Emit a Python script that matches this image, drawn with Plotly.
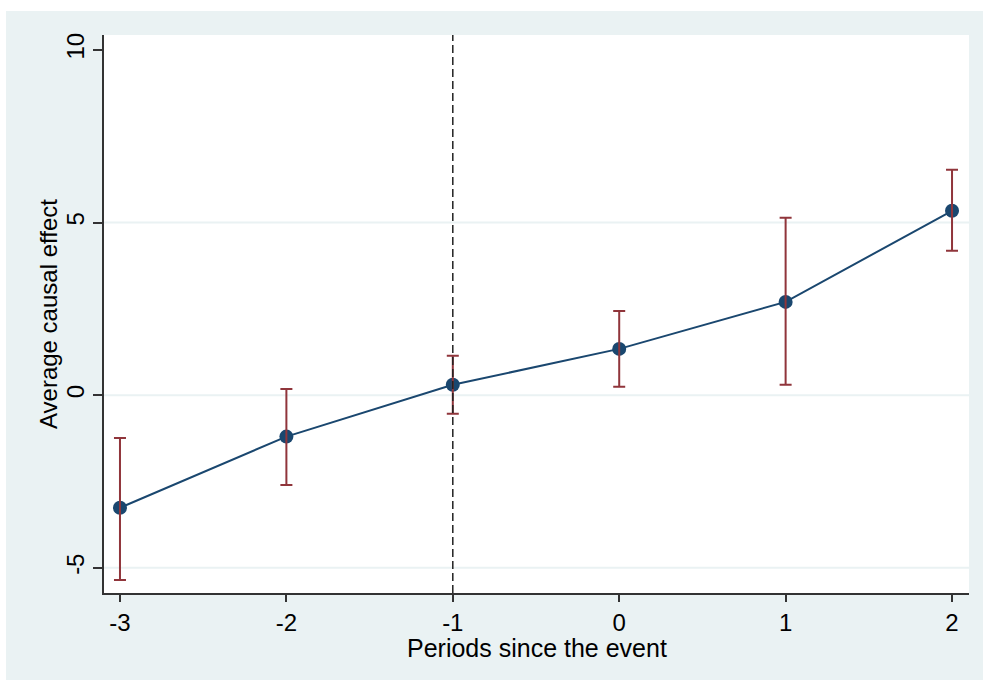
import plotly.graph_objects as go

periods = [-3, -2, -1, 0, 1, 2]
effect = [-3.26, -1.20, 0.30, 1.34, 2.70, 5.34]
ci_upper = [-1.24, 0.18, 1.14, 2.44, 5.14, 6.53]
ci_lower = [-5.35, -2.60, -0.54, 0.24, 0.30, 4.18]
x_ticks = [-3, -2, -1, 0, 1, 2]
y_ticks = [-5, 0, 5, 10]
grid_vals = [-5, 0, 5]
event_line = -1
x_title = "Periods since the event"
y_title = "Average causal effect"

err_plus = [u - e for u, e in zip(ci_upper, effect)]
err_minus = [e - l for e, l in zip(effect, ci_lower)]

font_family = "Liberation Sans, Arial, sans-serif"
bg = "#EAF2F3"

W, H = 983, 680
ML, MR, MT, MB = 104, 14, 35, 87
PW, PH = W - ML - MR, H - MT - MB

fig = go.Figure()
fig.add_trace(go.Scatter(
    x=periods, y=effect, mode="lines+markers",
    line=dict(color="#1A476F", width=2),
    marker=dict(color="#1A476F", size=14),
    showlegend=False, hoverinfo="skip",
))
fig.add_trace(go.Scatter(
    x=periods, y=effect, mode="markers",
    marker=dict(size=0.1, color="rgba(0,0,0,0)"),
    error_y=dict(type="data", symmetric=False, array=err_plus, arrayminus=err_minus,
                 color="#90353B", thickness=2, width=6),
    showlegend=False,
))

fig.update_layout(
    width=W, height=H,
    margin=dict(l=ML, r=MR, t=MT, b=MB),
    paper_bgcolor=bg,
    plot_bgcolor="white",
    font=dict(family=font_family, color="black", size=24),
)

# thin white border strips at the top and left of the page
fig.add_shape(type="rect", xref="paper", yref="paper",
              x0=-ML / PW - 0.05, x1=1 + MR / PW + 0.05, y0=1 + (MT - 11) / PH, y1=1 + MT / PH + 0.05,
              fillcolor="white", line=dict(width=0), layer="below")
fig.add_shape(type="rect", xref="paper", yref="paper",
              x0=-ML / PW - 0.05, x1=-(ML - 6) / PW, y0=-MB / PH - 0.05, y1=1 + MT / PH + 0.05,
              fillcolor="white", line=dict(width=0), layer="below")
for g in grid_vals:
    fig.add_shape(type="line", xref="paper", yref="y", x0=0, x1=1, y0=g, y1=g,
                  line=dict(color=bg, width=2), layer="below")
fig.add_shape(type="line", xref="x", yref="paper", x0=event_line, x1=event_line, y0=0, y1=1,
              line=dict(color="#222222", width=1.5, dash="8px,4px"))

fig.add_annotation(text=x_title, xref="paper", yref="paper", x=0.5, y=-55 / PH,
                   xanchor="center", yanchor="middle", showarrow=False,
                   font=dict(size=25, color="black"))
fig.add_annotation(text=y_title, xref="paper", yref="paper", x=-56 / PW, y=0.5,
                   xanchor="center", yanchor="middle", showarrow=False, textangle=-90,
                   font=dict(size=24, color="black"))

fig.update_xaxes(
    range=[-3.096, 2.102], tickvals=x_ticks, ticktext=[str(v) for v in x_ticks],
    showgrid=False, zeroline=False,
    showline=True, linecolor="#333333", linewidth=1.5,
    ticks="outside", ticklen=7, tickcolor="#333333", tickwidth=1.5,
    tickfont=dict(size=24),
)
fig.update_yaxes(
    range=[-5.73, 10.43], tickvals=y_ticks, ticktext=[str(v) for v in y_ticks],
    showgrid=False, zeroline=False,
    showline=True, linecolor="#333333", linewidth=1.5,
    ticks="outside", ticklen=9, tickcolor="#333333", tickwidth=1.5,
    tickangle=-90, tickfont=dict(size=24),
)

fig.write_html(
    "out.html",
    config={"displayModeBar": False},
    post_script=(
        "document.body.style.margin='0';document.body.style.overflow='hidden';"
        "document.documentElement.style.overflow='hidden';"
    ),
)
